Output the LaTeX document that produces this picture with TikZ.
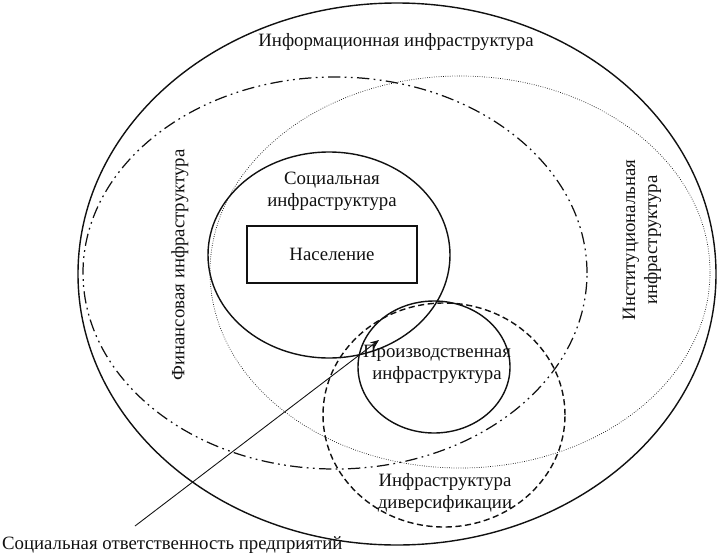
\documentclass[tikz,border=0pt]{standalone}
\usepackage{fontspec}
\setmainfont{Liberation Serif}
\usepackage{xcolor}
\usetikzlibrary{arrows.meta,positioning,shapes.geometric}
\definecolor{ink}{HTML}{111111}

\tikzset{
  zone/.style={ellipse,draw=ink,inner sep=0pt,outer sep=0pt},
  lbl/.style={text=ink,align=center,inner sep=1pt}
}

\begin{document}
\begin{tikzpicture}[x=1cm,y=1cm,font=\fontsize{10.7}{12.5}\selectfont]
  \useasboundingbox (0,0) rectangle (14.38,11.10);

  \node[zone,line width=0.8pt,minimum width=12.76cm,minimum height=10.84cm]
    (infozone) at (7.94,5.62) {};
  \node[zone,line width=0.7pt,dash pattern=on 7pt off 2.5pt on 1pt off 2.5pt on 1pt off 2.5pt,
    minimum width=10.08cm,minimum height=7.84cm] (finzone) at (6.70,5.64) {};
  \node[zone,line width=0.4pt,dash pattern=on 0.4pt off 0.9pt,
    minimum width=10.00cm,minimum height=7.84cm] (instzone) at (9.20,5.66) {};
  \node[zone,line width=0.8pt,minimum width=4.84cm,minimum height=4.12cm]
    (soczone) at (6.58,6.00) {};
  \node[zone,line width=0.8pt,minimum width=3.04cm,minimum height=2.64cm]
    (prodzone) at (8.68,3.76) {};
  \node[zone,line width=0.8pt,dashed,dash pattern=on 3.5pt off 2pt,
    minimum width=4.84cm,minimum height=4.48cm] (divzone) at (8.88,2.80) {};

  \node[draw=ink,line width=0.8pt,minimum width=3.40cm,minimum height=1.14cm,lbl]
    (people) at (6.64,6.01) {Население};

  \node[lbl] (infolbl) at (7.92,10.26) {Информационная инфраструктура};
  \node[lbl,rotate=90] (finlbl) at (3.60,5.80) {Финансовая инфраструктура};
  \node[lbl,rotate=90] (instlbl) at (12.84,6.30)
    {Институциональная\\инфраструктура};
  \node[lbl] (soclbl) at (6.64,7.27) {Социальная\\инфраструктура};
  \node[lbl] (prodlbl) at (8.74,3.81) {Производственная\\инфраструктура};
  \node[lbl] (divlbl) at (8.90,1.24) {Инфраструктура\\диверсификации};

  \node[lbl,anchor=west] (csrlbl) at (0,0.20)
    {Социальная ответственность предприятий};
  \coordinate (csrfoot) at (2.70,0.58);
  \coordinate (csrtip) at (7.58,4.30);
  \draw[ink,line width=0.5pt,-{Stealth[length=5pt,width=4pt]}] (csrfoot) -- (csrtip);
\end{tikzpicture}
\end{document}
